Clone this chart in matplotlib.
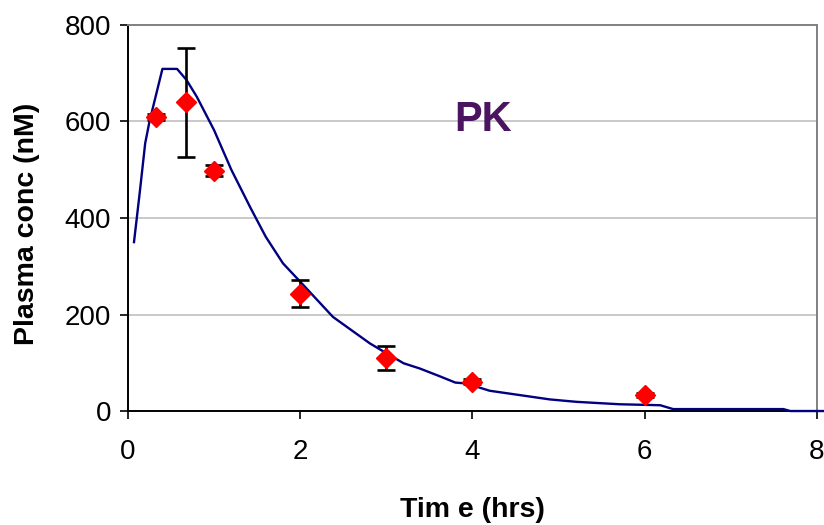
import matplotlib
matplotlib.use("Agg")
import matplotlib.pyplot as plt

plt.rcParams['font.family'] = ['Liberation Sans', 'DejaVu Sans']

# model curve
curve_t = [0.07, 0.14, 0.20, 0.25, 0.40, 0.57, 0.68, 0.80, 1.0, 1.2, 1.42, 1.6, 1.8,
           2.0, 2.38, 2.81, 2.97, 3.2, 3.39, 3.62, 3.8, 3.93, 4.2, 4.9, 5.21, 5.71,
           6.18, 6.33, 7.61, 7.69, 8.0, 8.08]
curve_c = [350, 458, 555, 600, 709, 709, 686, 651, 582, 500, 422, 361, 306,
           268, 195, 140, 123, 99, 88, 72, 59, 57, 42, 24, 19, 14,
           12, 4, 4, 0, 0, 0]

# measured points with error bars
obs_t = [0.33, 0.67, 1.0, 2.0, 3.0, 4.0, 6.0]
obs_c = [610, 640, 498, 243, 110, 61, 33]
obs_err = [6, 113, 11, 28, 24, 6, 4]

xticks = [0, 2, 4, 6, 8]
yticks = [0, 200, 400, 600, 800]

fig = plt.figure(figsize=(8.24, 5.25), dpi=100)
ax = fig.add_axes([0.1553, 0.2171, 0.8362, 0.7353])

ax.plot(curve_t, curve_c, color='#000080', lw=1.7, zorder=3, clip_on=False)
ax.errorbar(obs_t, obs_c, yerr=obs_err, fmt='none', ecolor='black',
            elinewidth=1.9, capsize=6.5, capthick=1.9, zorder=4)
ax.plot(obs_t, obs_c, 'D', color='#FF0000', ms=10, mec='#FF0000', zorder=5)

ax.text(4.12, 581, "PK", color='#4A1460', fontsize=30, fontweight='bold',
        ha='center', va='baseline')

ax.set_xlim(0, 8)
ax.set_ylim(0, 800)
ax.set_xticks(xticks)
ax.set_yticks(yticks)
ax.tick_params(axis='both', direction='out', length=6, width=1.2, labelsize=20,
               color='black')
ax.tick_params(axis='x', pad=14)
ax.tick_params(axis='y', pad=6)

for y in yticks[1:-1]:
    ax.axhline(y, color='#C0C0C0', lw=1.2, zorder=1)

ax.spines['left'].set_color('black')
ax.spines['bottom'].set_color('black')
ax.spines['left'].set_linewidth(1.4)
ax.spines['bottom'].set_linewidth(1.4)
ax.spines['top'].set_color('#808080')
ax.spines['right'].set_color('#808080')
ax.spines['top'].set_linewidth(1.4)
ax.spines['right'].set_linewidth(1.4)

ax.set_xlabel("Tim e (hrs)", fontsize=20.5, fontweight='bold', va='center')
ax.xaxis.set_label_coords(0.5, -0.2565)
ax.set_ylabel("Plasma conc (nM)", fontsize=20.5, fontweight='bold', va='center')
ax.yaxis.set_label_coords(-0.1466, 0.485)

fig.savefig("out.png", dpi=100)
